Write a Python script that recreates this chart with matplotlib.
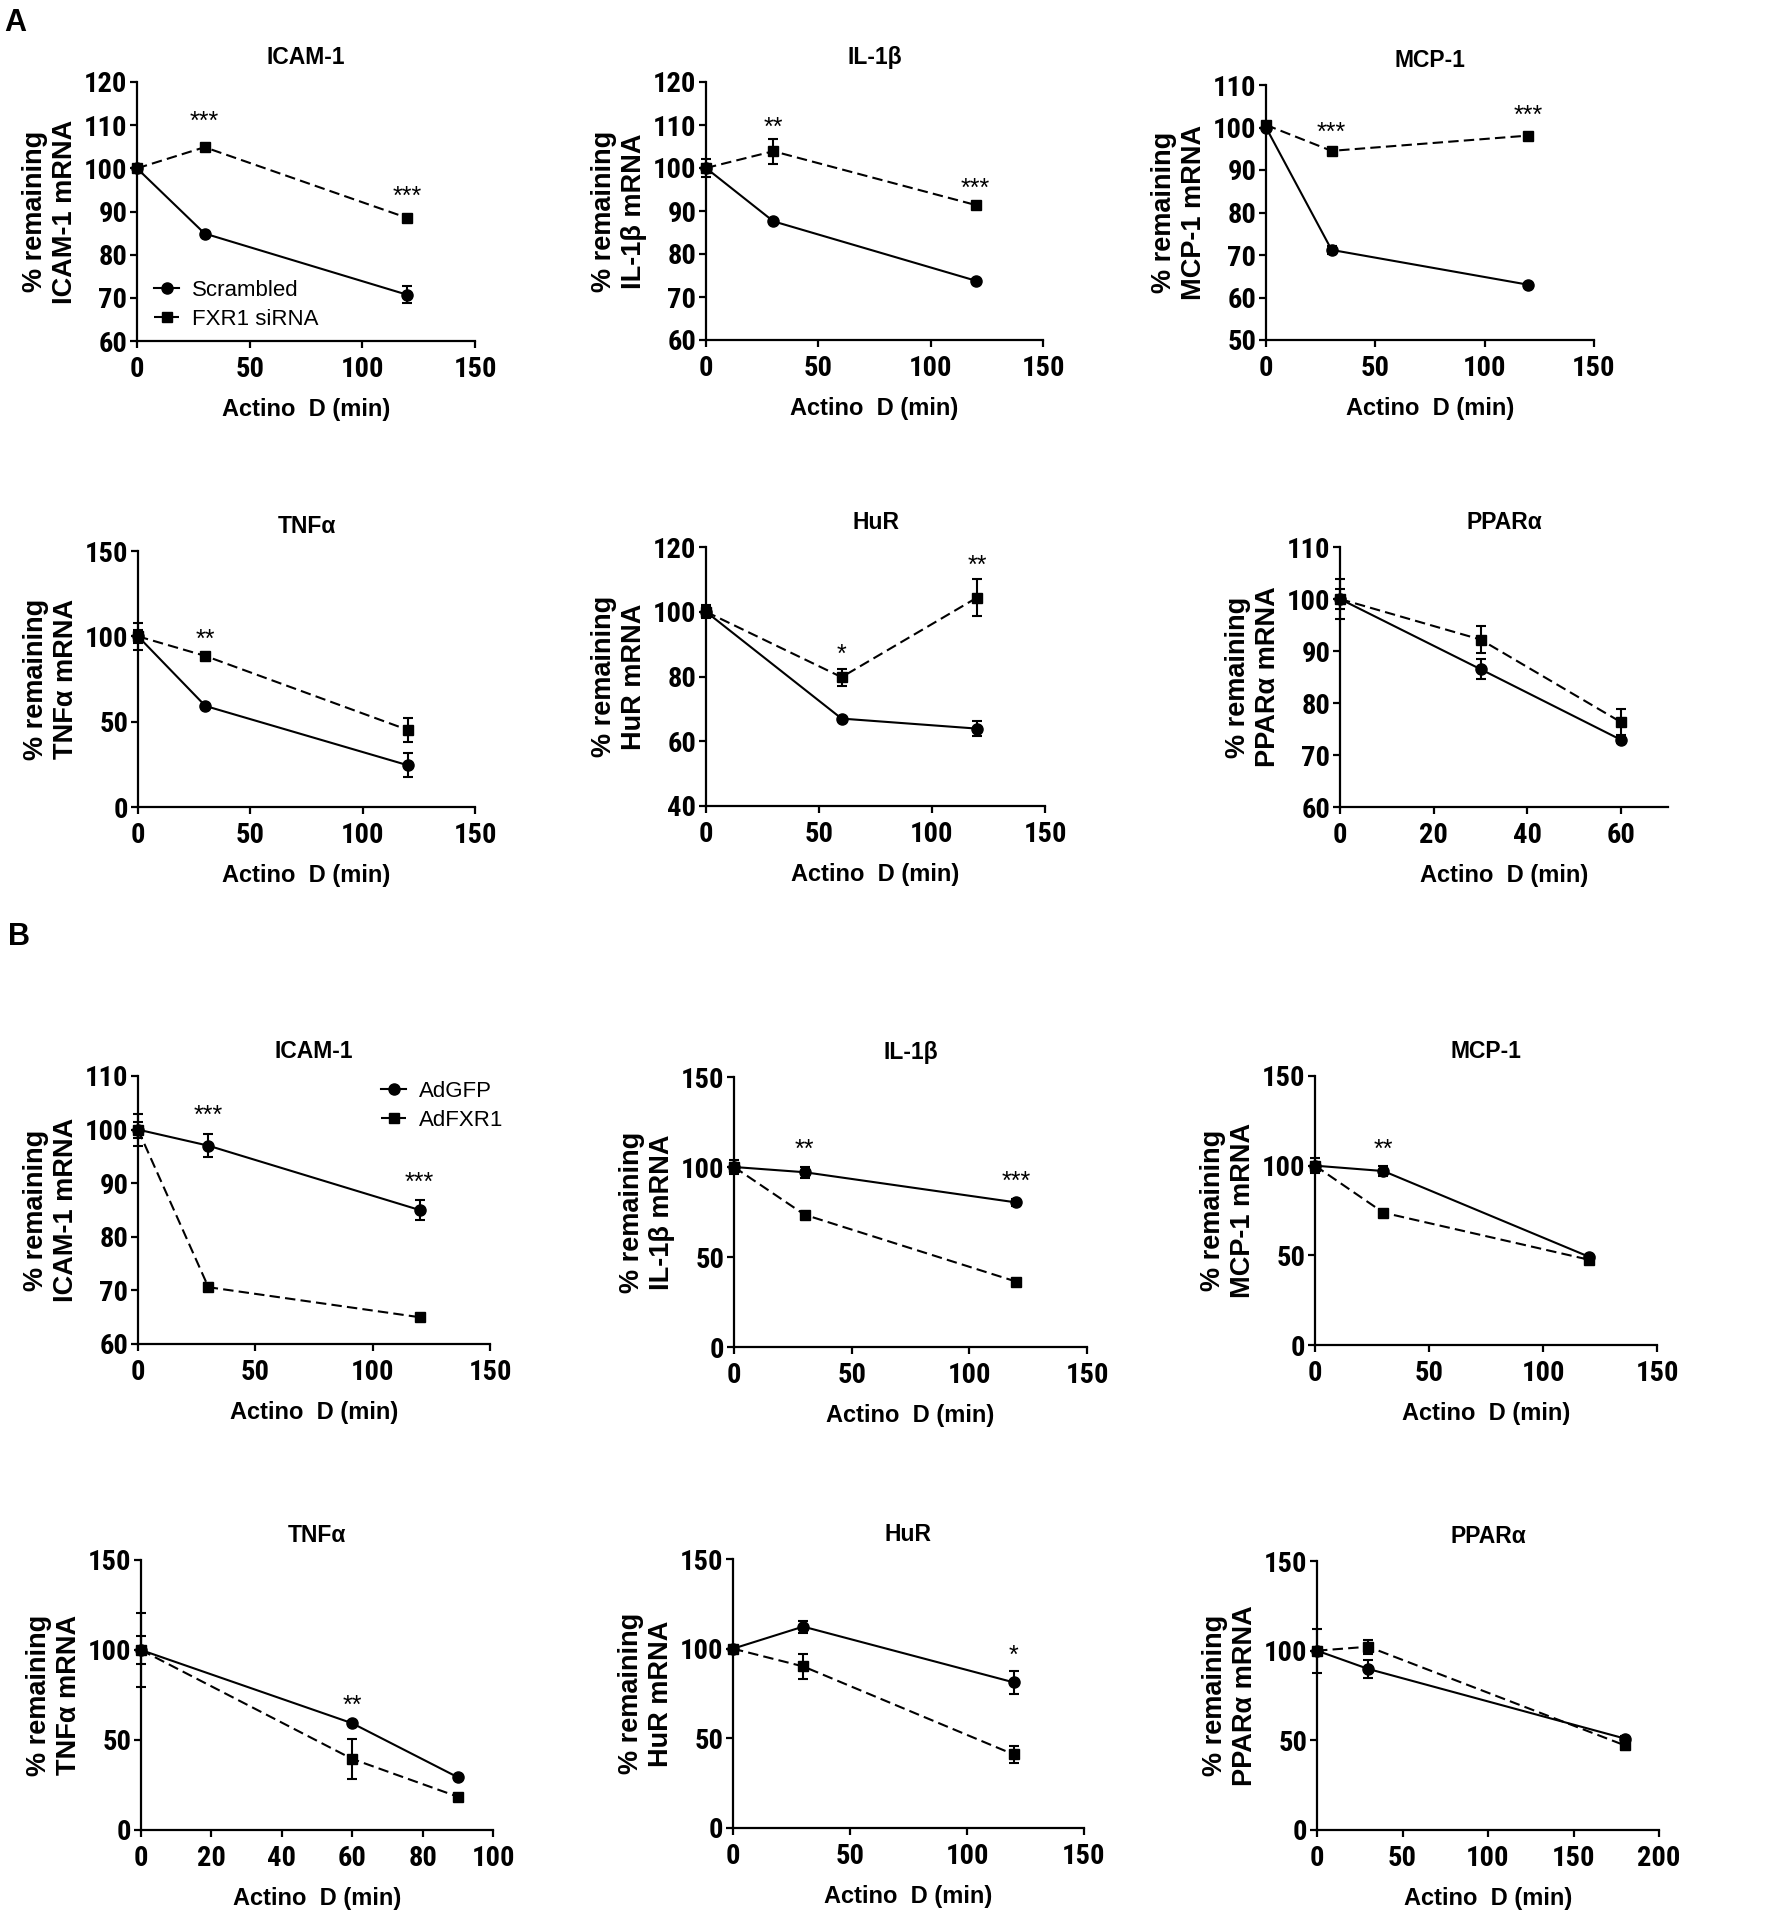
import matplotlib.pyplot as plt
from matplotlib import font_manager
from matplotlib.lines import Line2D

# ---- data ----
t_std = [0, 30, 120]
t_hur_a = [0, 60, 120]
t_ppar_a = [0, 30, 60]
t_tnf_b = [0, 60, 90]
t_ppar_b = [0, 30, 180]

# panel A: Scrambled vs FXR1 siRNA
a_icam_scr = [100, 84.9, 70.7]
a_icam_scr_err = [0.5, 0.5, 2.0]
a_icam_fxr = [100, 104.9, 88.5]
a_icam_fxr_err = [0.5, 0.8, 0.6]

a_il1b_scr = [100, 87.6, 73.8]
a_il1b_scr_err = [2.0, 0.5, 0.5]
a_il1b_fxr = [100, 103.9, 91.4]
a_il1b_fxr_err = [1.0, 2.9, 0.8]

a_mcp_scr = [100, 71.2, 63.0]
a_mcp_scr_err = [0.5, 0.9, 0.5]
a_mcp_fxr = [100.6, 94.5, 98.1]
a_mcp_fxr_err = [0.5, 0.5, 0.5]

a_tnf_scr = [100, 59.2, 24.5]
a_tnf_scr_err = [8.0, 0.5, 7.0]
a_tnf_fxr = [100, 88.5, 45.2]
a_tnf_fxr_err = [4.0, 0.5, 7.0]

a_hur_scr = [100, 67.0, 63.9]
a_hur_scr_err = [2.0, 0.5, 2.3]
a_hur_fxr = [100, 79.8, 104.4]
a_hur_fxr_err = [1.5, 2.6, 5.7]

a_ppar_scr = [100, 86.5, 72.9]
a_ppar_scr_err = [3.9, 1.9, 0.5]
a_ppar_fxr = [100, 92.2, 76.3]
a_ppar_fxr_err = [2.0, 2.6, 2.5]

# panel B: AdGFP vs AdFXR1
b_icam_gfp = [100, 97.0, 85.0]
b_icam_gfp_err = [3.0, 2.1, 1.9]
b_icam_fxr = [100, 70.6, 65.0]
b_icam_fxr_err = [1.5, 0.8, 0.4]

b_il1b_gfp = [100, 97.1, 80.3]
b_il1b_gfp_err = [4.0, 3.0, 2.0]
b_il1b_fxr = [100, 73.5, 36.3]
b_il1b_fxr_err = [2.0, 1.5, 1.0]

b_mcp_gfp = [100, 97.0, 49.3]
b_mcp_gfp_err = [4.0, 3.0, 1.0]
b_mcp_fxr = [100, 73.8, 47.6]
b_mcp_fxr_err = [2.0, 1.5, 1.5]

b_tnf_gfp = [100, 59.3, 29.3]
b_tnf_gfp_err = [20.5, 1.0, 1.0]
b_tnf_fxr = [100, 39.5, 18.5]
b_tnf_fxr_err = [8.0, 11.2, 1.0]

b_hur_gfp = [100, 112.3, 81.2]
b_hur_gfp_err = [1.0, 3.3, 6.6]
b_hur_fxr = [100, 90.1, 41.0]
b_hur_fxr_err = [1.0, 6.8, 4.5]

b_ppar_gfp = [100, 89.8, 51.0]
b_ppar_gfp_err = [12.3, 5.0, 1.5]
b_ppar_fxr = [100, 102.2, 47.2]
b_ppar_fxr_err = [2.0, 4.0, 2.5]

titles = ['ICAM-1', 'IL-1β', 'MCP-1', 'TNFα', 'HuR', 'PPARα'] * 2
ylabels = ['% remaining\nICAM-1 mRNA', '% remaining\nIL-1β mRNA', '% remaining\nMCP-1 mRNA',
           '% remaining\nTNFα mRNA', '% remaining\nHuR mRNA', '% remaining\nPPARα mRNA'] * 2
legend_a = ['Scrambled', 'FXR1 siRNA']
legend_b = ['AdGFP', 'AdFXR1']

stars_a = [[(30, 112.3, '***'), (120, 94.8, '***')],
           [(30, 110.7, '**'), (120, 96.5, '***')],
           [(30, 100.2, '***'), (120, 104.1, '***')],
           [(30, 101.7, '**')],
           [(60, 88.6, '*'), (120, 116.2, '**')],
           []]
stars_b = [[(30, 103.7, '***'), (120, 91.3, '***')],
           [(30, 112.9, '**'), (120, 95.2, '***')],
           [(30, 112.1, '**')],
           [(60, 72.2, '**')],
           [(120, 99.4, '*')],
           []]

# ---- layout: axes boxes in pixels (left, top, right, bottom) ----
W, H = 1777, 1920
boxes = [(137, 82, 475, 341), (706, 82, 1043, 340), (1266, 85, 1594, 340),
         (138, 551, 475, 807), (706, 547, 1045, 806), (1340, 547, 1668, 807),
         (138, 1076, 490, 1344), (734, 1077, 1087, 1347), (1315, 1076, 1657, 1345),
         (141, 1560, 493, 1830), (733, 1559, 1084, 1828), (1317, 1561, 1659, 1830)]
xlims = [(0, 150), (0, 150), (0, 150), (0, 150), (0, 150), (0, 70),
         (0, 150), (0, 150), (0, 150), (0, 100), (0, 150), (0, 200)]
xsteps = [50, 50, 50, 50, 50, 20, 50, 50, 50, 20, 50, 50]
ylims = [(60, 120), (60, 120), (50, 110), (0, 150), (40, 120), (60, 110),
         (60, 110), (0, 150), (0, 150), (0, 150), (0, 150), (0, 150)]
ysteps = [10, 10, 10, 50, 20, 10, 10, 50, 50, 50, 50, 50]

panels = [
    (t_std, a_icam_scr, a_icam_scr_err, a_icam_fxr, a_icam_fxr_err),
    (t_std, a_il1b_scr, a_il1b_scr_err, a_il1b_fxr, a_il1b_fxr_err),
    (t_std, a_mcp_scr, a_mcp_scr_err, a_mcp_fxr, a_mcp_fxr_err),
    (t_std, a_tnf_scr, a_tnf_scr_err, a_tnf_fxr, a_tnf_fxr_err),
    (t_hur_a, a_hur_scr, a_hur_scr_err, a_hur_fxr, a_hur_fxr_err),
    (t_ppar_a, a_ppar_scr, a_ppar_scr_err, a_ppar_fxr, a_ppar_fxr_err),
    (t_std, b_icam_gfp, b_icam_gfp_err, b_icam_fxr, b_icam_fxr_err),
    (t_std, b_il1b_gfp, b_il1b_gfp_err, b_il1b_fxr, b_il1b_fxr_err),
    (t_std, b_mcp_gfp, b_mcp_gfp_err, b_mcp_fxr, b_mcp_fxr_err),
    (t_tnf_b, b_tnf_gfp, b_tnf_gfp_err, b_tnf_fxr, b_tnf_fxr_err),
    (t_std, b_hur_gfp, b_hur_gfp_err, b_hur_fxr, b_hur_fxr_err),
    (t_ppar_b, b_ppar_gfp, b_ppar_gfp_err, b_ppar_fxr, b_ppar_fxr_err),
]
stars = stars_a + stars_b

# condensed face for the tick numbers, if there is one
names = {f.name for f in font_manager.fontManager.ttflist}
narrow = None
for cand in ['Liberation Sans Narrow', 'Arial Narrow', 'Roboto Condensed',
             'DejaVu Sans Condensed', 'Open Sans Condensed']:
    if cand in names:
        narrow = cand
        break
tick_size = 20.5 if narrow else 17
tick_family = ([narrow] if narrow else []) + ['Liberation Sans', 'DejaVu Sans']
plt.rcParams['font.family'] = ['Liberation Sans', 'DejaVu Sans']

fig = plt.figure(figsize=(W / 100, H / 100), dpi=100)

solid_h = Line2D([], [], color='black', lw=1.5, marker='o', ms=8)
dash_h = Line2D([], [], color='black', lw=1.5, marker='s', ms=7.5, ls=(0, (5, 2.5)))

for i, (l, t, r, b) in enumerate(boxes):
    ax = fig.add_axes([l / W, 1 - b / H, (r - l) / W, (b - t) / H])
    x, y1, e1, y2, e2 = panels[i]
    ax.errorbar(x, y1, yerr=e1, color='black', lw=1.5, marker='o', ms=8,
                capsize=3.6, elinewidth=1.5, capthick=1.5, clip_on=False, zorder=3)
    ax.errorbar(x, y2, yerr=e2, color='black', lw=1.5, marker='s', ms=7.5,
                ls=(0, (5, 2.5)), capsize=3.6, elinewidth=1.5, capthick=1.5,
                clip_on=False, zorder=3)
    ax.set_xlim(*xlims[i])
    ax.set_ylim(*ylims[i])
    ax.set_xticks(range(xlims[i][0], xlims[i][1] + 1, xsteps[i]))
    ax.set_yticks(range(ylims[i][0], ylims[i][1] + 1, ysteps[i]))
    for s in ['top', 'right']:
        ax.spines[s].set_visible(False)
    for s in ['left', 'bottom']:
        ax.spines[s].set_linewidth(1.6)
    ax.tick_params(direction='out', length=5, width=1.6)
    ax.tick_params(axis='x', pad=5.5)
    ax.tick_params(axis='y', pad=2)
    for lab in ax.get_xticklabels() + ax.get_yticklabels():
        lab.set_family(tick_family)
        lab.set_fontweight('bold')
        lab.set_fontsize(tick_size)
    ax.set_title(titles[i], fontsize=16.5, fontweight='bold', pad=13)
    ax.set_ylabel(ylabels[i], fontsize=19.5, fontweight='bold', labelpad=4, linespacing=1.2)
    ax.set_xlabel('Actino  D (min)', fontsize=17, fontweight='bold', labelpad=11)
    for sx, sy, txt in stars[i]:
        ax.annotate(txt, xy=(sx, sy), xytext=(0, -9.5), textcoords='offset points',
                    ha='center', va='baseline', fontsize=18)
    if i == 0:
        ax.legend([solid_h, dash_h], legend_a, loc='center left', bbox_to_anchor=(0.05, 0.14),
                  frameon=False, fontsize=16, handlelength=1.15, handletextpad=0.55,
                  borderpad=0, borderaxespad=0, labelspacing=0.35)
    if i == 6:
        ax.legend([solid_h, dash_h], legend_b, loc='center left', bbox_to_anchor=(0.69, 0.888),
                  frameon=False, fontsize=16, handlelength=1.15, handletextpad=0.55,
                  borderpad=0, borderaxespad=0, labelspacing=0.35)

fig.text(15 / W, 1 - 23 / H, 'A', fontsize=22, fontweight='bold', ha='center', va='center')
fig.text(19 / W, 1 - 937 / H, 'B', fontsize=22, fontweight='bold', ha='center', va='center')

fig.savefig('out.png', dpi=100, facecolor='white')
